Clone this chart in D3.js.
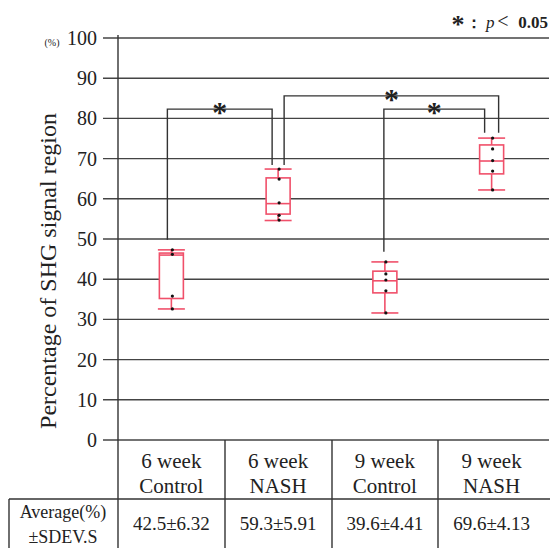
<!DOCTYPE html>
<html>
<head>
<meta charset="utf-8">
<script src="https://cdn.jsdelivr.net/npm/d3@7"></script>
<style>
  body { margin: 0; background: #fff; }
  svg text { font-family: "Liberation Serif", Tinos, "Times New Roman", Times, "DejaVu Serif", "Noto Serif", serif; fill: #222; }
</style>
</head>
<body>
<script>
// data
var categories = ["6 week Control", "6 week NASH", "9 week Control", "9 week NASH"];
var catLine1 = ["6 week", "6 week", "9 week", "9 week"];
var catLine2 = ["Control", "NASH", "Control", "NASH"];
var whiskerLow = [32.6, 54.6, 31.6, 62.2];
var q1 = [35.2, 56.2, 36.6, 66.2];
var median = [46.0, 58.8, 39.6, 69.4];
var q3 = [46.5, 65.2, 42.0, 73.4];
var whiskerHigh = [47.3, 67.4, 44.3, 75.1];
var points = [
  [47.3, 46.2, 35.8, 32.6],
  [67.4, 64.9, 59.0, 55.9, 54.7],
  [44.3, 41.3, 39.8, 37.1, 31.6],
  [75.1, 72.4, 69.5, 66.9, 62.2]
];
var averages = ["42.5\u00b16.32", "59.3\u00b15.91", "39.6\u00b14.41", "69.6\u00b14.13"];
var yTicks = [0, 10, 20, 30, 40, 50, 60, 70, 80, 90, 100];
// significance brackets: groups compared, bracket height, leg ends
var sigFrom = [0, 1, 2];
var sigTo = [1, 3, 3];
var sigTop = [82.3, 85.6, 82.3];
var sigFromEnd = [49.8, 68.4, 46.8];
var sigToEnd = [68.4, 76.4, 76.4];

var serif = "'Liberation Serif', Tinos, 'Times New Roman', Times, 'DejaVu Serif', serif";
var width = 550, height = 548;
var svg = d3.select("body").append("svg")
  .attr("width", width)
  .attr("height", height)
  .attr("font-family", serif);

var y = d3.scaleLinear().domain([0, 100]).range([440, 38]);
var x = d3.scaleBand().domain(categories).range([118, 545]).padding(0);
var red = "#f0506a";

// gridlines
svg.selectAll(".grid")
  .data(yTicks)
  .enter().append("line")
  .attr("x1", 103).attr("x2", 549)
  .attr("y1", function(d) { return y(d); })
  .attr("y2", function(d) { return y(d); })
  .attr("stroke", "#444").attr("stroke-width", 1.4);

// y axis labels
var yAxis = svg.append("g")
  .attr("transform", "translate(103,0)")
  .call(d3.axisLeft(y).tickValues(yTicks).tickSize(0).tickPadding(6));
yAxis.attr("font-family", serif);
yAxis.select(".domain").remove();
yAxis.selectAll("text")
  .style("font-family", serif)
  .style("font-size", "20px")
  .attr("fill", "#222");

// vertical axis line running into the table
svg.append("line")
  .attr("x1", 118).attr("x2", 118).attr("y1", 35).attr("y2", 548)
  .attr("stroke", "#333").attr("stroke-width", 1.4);

svg.append("text")
  .attr("x", 52).attr("y", 46)
  .attr("text-anchor", "middle")
  .style("font-size", "10px")
  .text("(%)");

svg.append("text")
  .attr("transform", "translate(56,271) rotate(-90)")
  .attr("text-anchor", "middle")
  .style("font-size", "24px")
  .text("Percentage of SHG signal region");

// boxes
var bw = 24, cw = 27;
var g = svg.selectAll(".box")
  .data(categories)
  .enter().append("g")
  .attr("class", "box");

function cx(i) { return x(categories[i]) + x.bandwidth() / 2; }

g.append("line")
  .attr("x1", function(d, i) { return cx(i); })
  .attr("x2", function(d, i) { return cx(i); })
  .attr("y1", function(d, i) { return y(whiskerLow[i]); })
  .attr("y2", function(d, i) { return y(whiskerHigh[i]); })
  .attr("stroke", red).attr("stroke-width", 1.6);
g.append("line")
  .attr("x1", function(d, i) { return cx(i) - cw / 2; })
  .attr("x2", function(d, i) { return cx(i) + cw / 2; })
  .attr("y1", function(d, i) { return y(whiskerLow[i]); })
  .attr("y2", function(d, i) { return y(whiskerLow[i]); })
  .attr("stroke", red).attr("stroke-width", 1.6);
g.append("line")
  .attr("x1", function(d, i) { return cx(i) - cw / 2; })
  .attr("x2", function(d, i) { return cx(i) + cw / 2; })
  .attr("y1", function(d, i) { return y(whiskerHigh[i]); })
  .attr("y2", function(d, i) { return y(whiskerHigh[i]); })
  .attr("stroke", red).attr("stroke-width", 1.6);
g.append("rect")
  .attr("x", function(d, i) { return cx(i) - bw / 2; })
  .attr("width", bw)
  .attr("y", function(d, i) { return y(q3[i]); })
  .attr("height", function(d, i) { return y(q1[i]) - y(q3[i]); })
  .attr("fill", "#fff")
  .attr("stroke", red).attr("stroke-width", 1.6);
g.append("line")
  .attr("x1", function(d, i) { return cx(i) - bw / 2; })
  .attr("x2", function(d, i) { return cx(i) + bw / 2; })
  .attr("y1", function(d, i) { return y(median[i]); })
  .attr("y2", function(d, i) { return y(median[i]); })
  .attr("stroke", red).attr("stroke-width", 1.6);
g.each(function(d, i) {
  d3.select(this).selectAll("circle")
    .data(points[i])
    .enter().append("circle")
    .attr("cx", cx(i) + 1)
    .attr("cy", function(v) { return y(v); })
    .attr("r", 1.6)
    .attr("fill", "#111");
});

// significance brackets
var legOff = [[-4, -6], [6, 7], [-1, -7]];
sigFrom.forEach(function(a, k) {
  var b = sigTo[k];
  var xa = cx(a) + legOff[k][0], xb = cx(b) + legOff[k][1];
  svg.append("path")
    .attr("d", "M" + xa + "," + y(sigFromEnd[k]) + "V" + y(sigTop[k]) + "H" + xb + "V" + y(sigToEnd[k]))
    .attr("fill", "none").attr("stroke", "#333").attr("stroke-width", 1.4);
  svg.append("text")
    .attr("x", (xa + xb) / 2).attr("y", y(sigTop[k]) + 13)
    .attr("text-anchor", "middle")
    .style("font-size", "30px").style("font-weight", "bold")
    .text("*");
});

// legend top right
var legY = 28;
svg.append("text").attr("x", 458).attr("y", legY + 5).attr("text-anchor", "middle")
  .style("font-size", "26px").style("font-weight", "bold").text("*");
svg.append("text").attr("x", 474).attr("y", legY).attr("text-anchor", "middle")
  .style("font-size", "16px").style("font-weight", "bold").text("\uff1a");
svg.append("text").attr("x", 486).attr("y", legY)
  .style("font-size", "17px").style("font-style", "italic").text("p");
svg.append("text").attr("x", 503).attr("y", legY).attr("text-anchor", "middle")
  .style("font-size", "20px").text("<");
svg.append("text").attr("x", 548).attr("y", legY).attr("text-anchor", "end")
  .style("font-size", "17px").style("font-weight", "bold").text("0.05");

// table below the axis
var tableLines = [225, 332, 438];
svg.selectAll(".col")
  .data(tableLines)
  .enter().append("line")
  .attr("x1", function(d) { return d; }).attr("x2", function(d) { return d; })
  .attr("y1", 440).attr("y2", 548)
  .attr("stroke", "#333").attr("stroke-width", 1.4);
svg.append("line")
  .attr("x1", 9).attr("x2", 550).attr("y1", 499).attr("y2", 499)
  .attr("stroke", "#333").attr("stroke-width", 1.4);
svg.append("line")
  .attr("x1", 9).attr("x2", 9).attr("y1", 499).attr("y2", 548)
  .attr("stroke", "#333").attr("stroke-width", 1.4);

svg.selectAll(".cat1")
  .data(categories)
  .enter().append("text")
  .attr("x", function(d) { return x(d) + x.bandwidth() / 2; })
  .attr("y", 468)
  .attr("text-anchor", "middle")
  .style("font-size", "21px")
  .text(function(d, i) { return catLine1[i]; });
svg.selectAll(".cat2")
  .data(categories)
  .enter().append("text")
  .attr("x", function(d) { return x(d) + x.bandwidth() / 2; })
  .attr("y", 493)
  .attr("text-anchor", "middle")
  .style("font-size", "21px")
  .text(function(d, i) { return catLine2[i]; });
svg.selectAll(".avg")
  .data(categories)
  .enter().append("text")
  .attr("x", function(d) { return x(d) + x.bandwidth() / 2; })
  .attr("y", 530)
  .attr("text-anchor", "middle")
  .style("font-size", "19px")
  .text(function(d, i) { return averages[i]; });

svg.append("text")
  .attr("x", 63).attr("y", 518)
  .attr("text-anchor", "middle")
  .style("font-size", "18px")
  .text("Average(%)");
svg.append("text")
  .attr("x", 63).attr("y", 543)
  .attr("text-anchor", "middle")
  .style("font-size", "18px")
  .text("\u00b1SDEV.S");
</script>
</body>
</html>
